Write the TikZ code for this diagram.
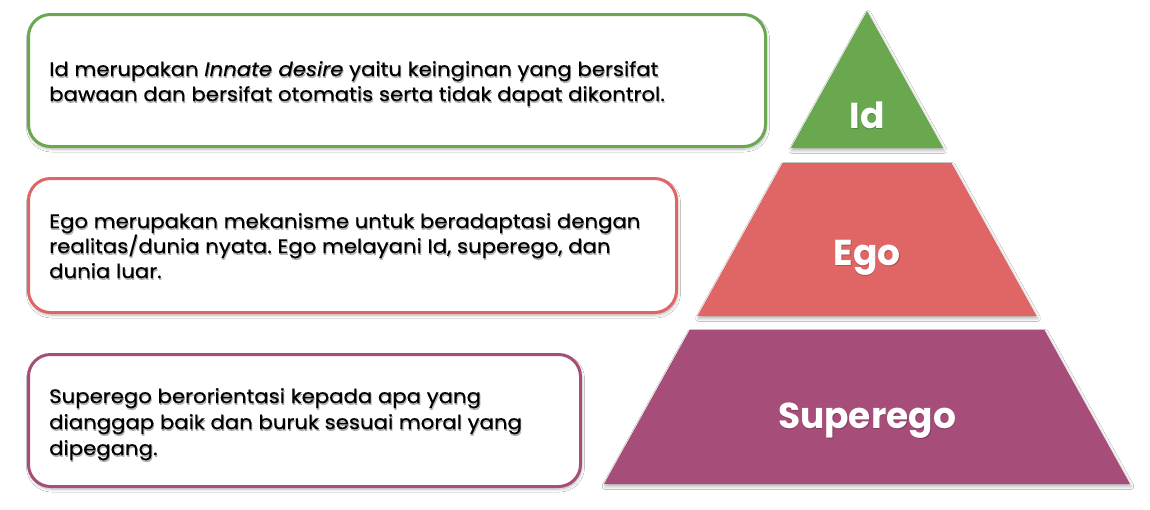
\documentclass[tikz,border=0pt]{standalone}
\usepackage{fontspec}
\setmainfont{Poppins}
\newfontfamily\bodyfam[FakeStretch=1.09, FakeBold=0.4]{Poppins}
\usetikzlibrary{shadows.blur}
\definecolor{gId}{HTML}{6AA84F}
\definecolor{rEgo}{HTML}{E06666}
\definecolor{pSup}{HTML}{A64D79}
\newcommand\bodyfont{\bodyfam\fontsize{19.5}{24}\selectfont\frenchspacing}
\newcommand\lblfont{\fontsize{36}{40}\selectfont\bfseries}
\tikzset{
  x=1pt, y=-1pt,
  softshadow/.style={blur shadow={shadow xshift=1pt, shadow yshift=-2.5pt,
      shadow blur steps=6, shadow opacity=30, shadow blur radius=3pt}},
  box/.style={draw=#1, line width=3pt, rounded corners=22pt, fill=white,
      inner sep=0pt, softshadow},
  bodytxt/.style={anchor=base west, inner sep=0pt, font=\bodyfont, text=black},
  tshadow/.style={bodytxt, text=black, opacity=0.28},
  lbl/.style={anchor=base, inner sep=0pt, font=\lblfont, text=white},
  lblshadow/.style={lbl, text=black, opacity=0.22},
}
\newcommand\tline[4]{%
  \node[tshadow] (#1s) at (#2+0.8,#3+1.8) {#4};
  \node[bodytxt] (#1) at (#2,#3) {#4};}
\begin{document}
\begin{tikzpicture}
\useasboundingbox (0,0) rectangle (1150,509);
\fill[white] (0,0) rectangle (1150,509);

% text boxes
\node[box=gId, minimum width=737pt, minimum height=132pt] (boxid) at (397,80.5) {};
\node[box=rEgo, minimum width=648pt, minimum height=134pt] (boxego) at (352.5,245.5) {};
\node[box=pSup, minimum width=552pt, minimum height=132pt] (boxsup) at (304.5,420.5) {};

% box texts
\tline{ida}{49}{76}{Id merupakan \textit{Innate desire} yaitu keinginan yang bersifat}
\tline{idb}{49}{101}{bawaan dan bersifat otomatis serta tidak dapat dikontrol.}
\tline{egoa}{49}{228}{Ego merupakan mekanisme untuk beradaptasi dengan}
\tline{egob}{49}{253}{realitas/dunia nyata. Ego melayani Id, superego, dan}
\tline{egoc}{49}{278}{dunia luar.}
\tline{supa}{49}{403}{Superego berorientasi kepada apa yang}
\tline{supb}{49}{429}{dianggap baik dan buruk sesuai moral yang}
\tline{supc}{49}{455}{dipegang.}

% pyramid
\fill[gId, softshadow] (867,11) -- (943.2,148) -- (790.8,148) -- cycle;
\fill[rEgo, softshadow] (782.5,163) -- (951.5,163) -- (1036.6,316) -- (697.4,316) -- cycle;
\fill[pSup, softshadow] (689.6,330) -- (1044.4,330) -- (1130,484) -- (604,484) -- cycle;

\node[lblshadow] (idls) at (867.8,129.5) {Id};
\node[lbl] (idl) at (867,128) {Id};
\node[lblshadow] (egols) at (867.8,266.5) {Ego};
\node[lbl] (egol) at (867,265) {Ego};
\node[lblshadow] (supls) at (867.8,429.5) {Superego};
\node[lbl] (supl) at (867,428) {Superego};
\end{tikzpicture}
\end{document}
